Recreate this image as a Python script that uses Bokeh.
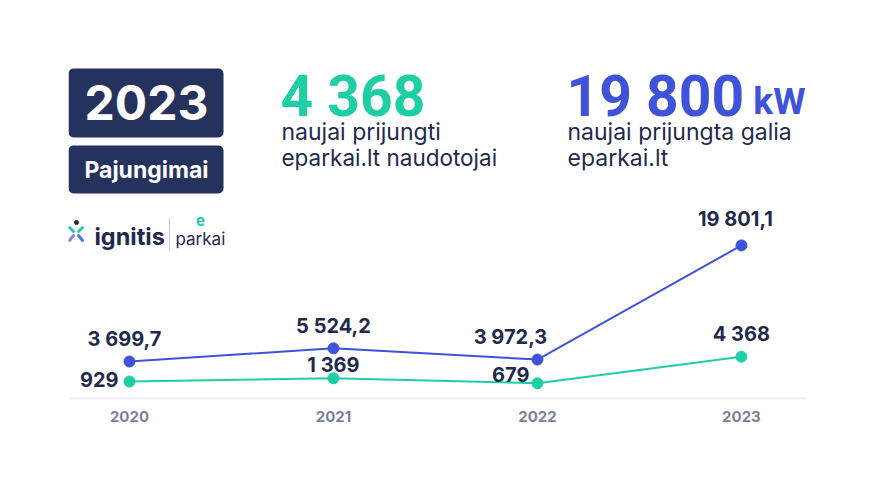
from bokeh.plotting import figure
from bokeh.models import ColumnDataSource, FixedTicker, BoxAnnotation, Range1d
from bokeh.core.properties import value
from bokeh.embed import file_html
from bokeh.resources import INLINE

# ---- data ----
years = [2020, 2021, 2022, 2023]
power_kw = [3699.7, 5524.2, 3972.3, 19801.1]
users = [929, 1369, 679, 4368]
tick_labels = ["2020", "2021", "2022", "2023"]

NAVY = "#26325e"
TEXT = "#1f2a4c"
GREEN = "#1ecfa6"
BLUE = "#3f52da"
GREY = "#737c94"
FONT = value("Inter")
BIG = value("Roboto")


def lt_fmt(v):
    if abs(v - round(v)) < 1e-9:
        s = f"{int(round(v)):,}".replace(",", " ")
    else:
        s = f"{v:,.1f}".replace(",", " ").replace(".", ",")
    return s


W, H = 856, 474
OFF = 0
FL, FR, FT, FB = 68, 805, 8, 398  # frame in page-local px
XS, XE = 2019.701, 2023.314
YS, YE = -1430, 52660

p = figure(width=W, height=H, output_backend="svg", toolbar_location=None,
           x_range=Range1d(XS, XE), y_range=Range1d(YS, YE),
           min_border_left=FL, min_border_right=W - FR,
           min_border_top=FT, min_border_bottom=H - FB)
p.background_fill_color = "white"
p.border_fill_color = "white"
p.outline_line_color = None
p.grid.visible = False
p.yaxis.visible = False
p.xaxis.ticker = FixedTicker(ticks=years)
p.xaxis.major_label_overrides = {y: t for y, t in zip(years, tick_labels)}
p.xaxis.axis_line_color = "#eef0f5"
p.xaxis.axis_line_width = 2
p.xaxis.major_tick_line_color = None
p.xaxis.minor_tick_line_color = None
p.xaxis.major_label_standoff = 6
p.xaxis.major_label_text_font = "Inter"
p.xaxis.major_label_text_font_size = "15px"
p.xaxis.major_label_text_font_style = "bold"
p.xaxis.major_label_text_color = "#7a8298"


def px2x(px):  # image px -> data x
    return XS + (px - OFF - FL) / (FR - FL) * (XE - XS)


def py2y(py):  # image px -> data y
    return YS + (FB - (py - OFF)) / (FB - FT) * (YE - YS)


# ---- series ----
src = ColumnDataSource(dict(
    x=years, p=power_kw, u=users,
    pl=[lt_fmt(v) for v in power_kw],
    pdx=[-5, 0, -27, -6], pdy=[-23, -22, -23, -26],
))
p.line("x", "p", source=src, line_color=BLUE, line_width=2)
p.line("x", "u", source=src, line_color=GREEN, line_width=2)
p.scatter("x", "p", source=src, size=11, fill_color=BLUE, line_color=BLUE)
p.scatter("x", "u", source=src, size=11, fill_color=GREEN, line_color=GREEN)

p.text("x", "p", text="pl", source=src, x_offset="pdx", y_offset="pdy",
       text_align="center", text_baseline="middle", text_font=FONT,
       text_font_style="bold", text_font_size="20px", text_color=TEXT)
lab_src_c = ColumnDataSource(dict(x=years[1:2] + years[3:], y=users[1:2] + users[3:],
                                  t=[lt_fmt(users[1]), lt_fmt(users[3])],
                                  dy=[-13, -23]))
lab_src_r = ColumnDataSource(dict(x=[years[0], years[2]], y=[users[0], users[2]],
                                  t=[lt_fmt(users[0]), lt_fmt(users[2])],
                                  dx=[-11, -8], dy=[-2, -9]))
p.text("x", "y", text="t", source=lab_src_c, y_offset="dy",
       text_align="center", text_baseline="middle", text_font=FONT,
       text_font_style="bold", text_font_size="20px", text_color=TEXT)
p.text("x", "y", text="t", source=lab_src_r, x_offset="dx", y_offset="dy",
       text_align="right", text_baseline="middle", text_font=FONT,
       text_font_style="bold", text_font_size="20px", text_color=TEXT)

# ---- header boxes ----
p.add_layout(BoxAnnotation(left=px2x(68), right=px2x(223), top=py2y(68), bottom=py2y(137),
                           fill_color=NAVY, fill_alpha=1, line_alpha=0, border_radius=5,
                           level="underlay"))
p.add_layout(BoxAnnotation(left=px2x(68), right=px2x(223), top=py2y(145), bottom=py2y(193),
                           fill_color=NAVY, fill_alpha=1, line_alpha=0, border_radius=5,
                           level="underlay"))


def txt(px, py, s, size, color, bold=True, align="left", baseline="middle", font=FONT):
    p.text(x=[px2x(px)], y=[py2y(py)], text=[s], text_align=align,
           text_baseline=baseline, text_font=font,
           text_font_style="bold" if bold else "normal",
           text_font_size=f"{size}px", text_color=color)


txt(146, 102, "2023", 48, "white", align="center")
txt(146, 169, "Pajungimai", 23, "white", align="center")

txt(280, 96, "4 368", 57, GREEN, baseline="alphabetic", font=BIG)
txt(281, 131, "naujai prijungti", 23, TEXT, bold=False, baseline="alphabetic")
txt(281, 157, "eparkai.lt naudotojai", 22.5, TEXT, bold=False, baseline="alphabetic")

txt(566, 96, "19 800", 57, BLUE, baseline="alphabetic", font=BIG)
txt(805, 101, "kW", 37, BLUE, align="right", baseline="alphabetic", font=BIG)
txt(567, 131, "naujai prijungta galia", 23, TEXT, bold=False, baseline="alphabetic")
txt(567, 157, "eparkai.lt", 23, TEXT, bold=False, baseline="alphabetic")

# ---- logo ----
p.segment(x0=[px2x(69), px2x(82), px2x(69), px2x(82)],
          y0=[py2y(227), py2y(227), py2y(240), py2y(240)],
          x1=[px2x(73), px2x(78), px2x(73), px2x(78)],
          y1=[py2y(231), py2y(231), py2y(235), py2y(235)],
          line_color=["#26c7b5", "#26c7b5", "#8b7fe2", "#4f78e0"],
          line_width=3, line_cap="round")
p.scatter(x=[px2x(76)], y=[py2y(222)], size=4, color=TEXT)
txt(94, 236, "ignitis", 23.5, TEXT, baseline="alphabetic")
p.segment(x0=[px2x(169)], y0=[py2y(217)], x1=[px2x(169)], y1=[py2y(250)],
          line_color="#c7cbd4", line_width=1)
txt(200, 220, "e", 15, GREEN, align="center")
txt(175, 238, "parkai", 17, TEXT, bold=False, baseline="alphabetic")

open("out.html", "w").write(file_html(p, INLINE))
